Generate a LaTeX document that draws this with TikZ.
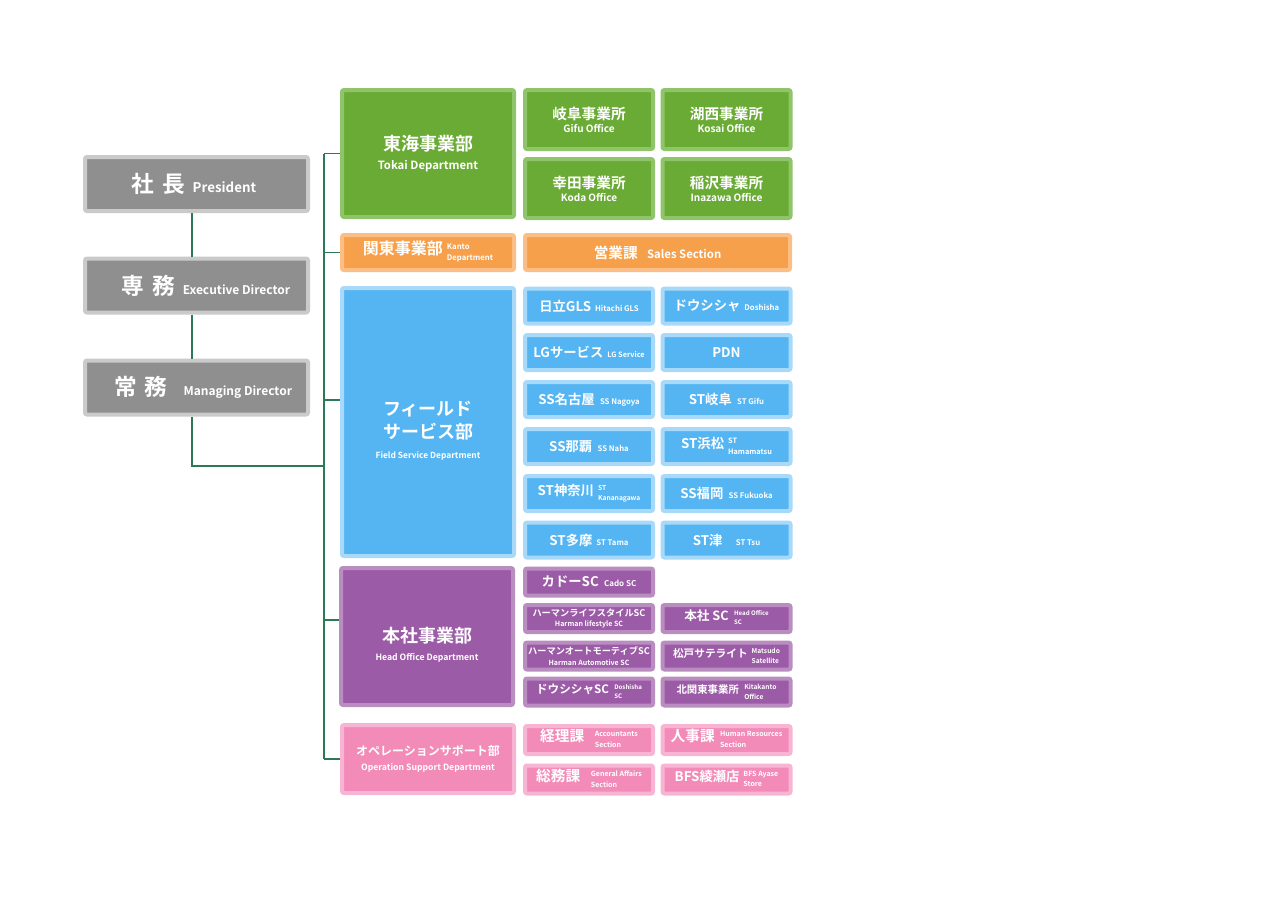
\documentclass[tikz,border=0pt]{standalone}
\usepackage{fontspec}
\setmainfont{Noto Sans CJK JP}[BoldFont={Noto Sans CJK JP Bold}]
\usepackage{tikz}
\definecolor{grayfill}{HTML}{8F8F8F}
\definecolor{grayedge}{HTML}{CACACA}
\definecolor{greenfill}{HTML}{6AAB35}
\definecolor{greenedge}{HTML}{8FC46A}
\definecolor{orangefill}{HTML}{F7A04B}
\definecolor{orangeedge}{HTML}{FBBE86}
\definecolor{bluefill}{HTML}{55B5F2}
\definecolor{blueedge}{HTML}{A8D9F8}
\definecolor{purplefill}{HTML}{9C5BA6}
\definecolor{purpleedge}{HTML}{BA8DC1}
\definecolor{pinkfill}{HTML}{F28BB8}
\definecolor{pinkedge}{HTML}{F8B5D3}
\definecolor{linkgreen}{HTML}{2C7A55}
\newcommand\sz[2]{{\fontsize{#1}{#1}\selectfont #2}}
\newcommand\stk[3]{{\fontsize{#1}{\dimexpr#1pt*3/2\relax}\selectfont\begin{tabular}[c]{@{}l@{}}#2\\#3\end{tabular}}}

\begin{document}
\begin{tikzpicture}[x=0.75pt, y=-0.75pt,
    every node/.style = {rounded corners=1.5pt, line width=3pt, text=white, font=\bfseries, align=center, inner sep=0pt},
    graybox/.style = {draw=grayedge, fill=grayfill, minimum width=167.25pt, minimum height=40.5pt},
    dept/.style = {minimum width=129pt},
    cell/.style = {minimum width=96pt},
    greenbox/.style = {draw=greenedge, fill=greenfill},
    orangebox/.style = {draw=orangeedge, fill=orangefill, minimum height=26.25pt},
    bluebox/.style = {draw=blueedge, fill=bluefill},
    purplebox/.style = {draw=purpleedge, fill=purplefill},
    pinkbox/.style = {draw=pinkedge, fill=pinkfill},
    link/.style = {draw=linkgreen, line width=1.2pt}]
  \useasboundingbox (0,0) rectangle (1280,904);

  % top management
  \node[graybox] (pres) at (196.5,184) {\hspace{-4pt}\sz{17}{社\hspace{0.35em}長}\hspace{0.6em}\sz{10}{President}};
  \node[graybox] (exec) at (196.5,285.5) {\hspace{14pt}\sz{17}{専\hspace{0.35em}務}\hspace{0.6em}\sz{9}{Executive Director}};
  \node[graybox] (mng) at (196.5,387.5) {\hspace{10pt}\sz{17}{常\hspace{0.35em}務}\hspace{1.2em}\sz{9}{Managing Director}};

  % departments
  \node[dept, greenbox, minimum height=95.25pt] (tokai) at (428,153.5)
    {\sz{13.5}{東海事業部}\\[2.5pt]\sz{8.5}{Tokai Department}};
  \node[dept, orangebox] (kanto) at (428,252.5)
    {\sz{12}{関東事業部}\hspace{3pt}\stk{5.8}{Kanto}{Department}};
  \node[dept, bluebox, minimum height=201pt] (field) at (428,422)
    {\sz{13.5}{\rule{0pt}{24pt}フィールド}\\[3pt]\sz{13.5}{サービス部}\\[3pt]\sz{6.3}{Field Service Department}};
  \node[dept, purplebox, minimum height=102.75pt] (head) at (427,636.5)
    {\sz{13.5}{\rule{0pt}{24pt}本社事業部}\\[1.5pt]\sz{6.5}{Head Office Department}};
  \node[dept, pinkbox, minimum height=51pt] (oper) at (428,759)
    {\sz{9}{オペレーションサポート部}\\[-1pt]\sz{6.5}{Operation Support Department}};

  % Tokai offices
  \node[cell, greenbox, minimum height=44.25pt] (gifu) at (589,119.5)
    {\sz{11}{岐阜事業所}\\[-2pt]\sz{7.5}{Gifu Office}};
  \node[cell, greenbox, minimum height=44.25pt] (kosai) at (726.5,119.5)
    {\sz{11}{湖西事業所}\\[-2pt]\sz{7.5}{Kosai Office}};
  \node[cell, greenbox, minimum height=44.25pt] (koda) at (589,188.5)
    {\sz{11}{幸田事業所}\\[-2pt]\sz{7.5}{Koda Office}};
  \node[cell, greenbox, minimum height=44.25pt] (inazawa) at (726.5,188.5)
    {\sz{11}{稲沢事業所}\\[-2pt]\sz{7.5}{Inazawa Office}};

  \node[orangebox, minimum width=198.75pt] (sales) at (657.5,252.5)
    {\sz{11}{営業課}\hspace{7pt}\sz{8.5}{Sales Section}};

  % field service offices
  \node[cell, bluebox, minimum height=26.25pt] (hitachi) at (589,306)
    {\sz{10}{日立GLS}\hspace{3pt}\sz{5.8}{Hitachi GLS}};
  \node[cell, bluebox, minimum height=26.25pt] (doshisha) at (726.5,306)
    {\sz{10}{ドウシシャ}\hspace{3pt}\sz{5.8}{Doshisha}};
  \node[cell, bluebox, minimum height=26.25pt] (lg) at (589,352.5)
    {\sz{10}{LGサービス}\hspace{3pt}\sz{5.5}{LG Service}};
  \node[cell, bluebox, minimum height=26.25pt] (pdn) at (726.5,352.5)
    {\sz{10}{PDN}};
  \node[cell, bluebox, minimum height=26.25pt] (nagoya) at (589,399.5)
    {\sz{10}{SS名古屋}\hspace{4pt}\sz{5.8}{SS Nagoya}};
  \node[cell, bluebox, minimum height=26.25pt] (stgifu) at (726.5,399.5)
    {\sz{10}{ST岐阜}\hspace{4pt}\sz{5.8}{ST Gifu}};
  \node[cell, bluebox, minimum height=26.25pt] (naha) at (589,446.5)
    {\sz{10}{SS那覇}\hspace{4pt}\sz{5.8}{SS Naha}};
  \node[cell, bluebox, minimum height=26.25pt] (hamamatsu) at (726.5,446.5)
    {\sz{10}{ST浜松}\hspace{3pt}\stk{5.5}{ST}{Hamamatsu}};
  \node[cell, bluebox, minimum height=26.25pt] (kanagawa) at (589,493.5)
    {\sz{10}{ST神奈川}\hspace{3pt}\stk{5}{ST}{Kananagawa}};
  \node[cell, bluebox, minimum height=26.25pt] (fukuoka) at (726.5,493.5)
    {\sz{10}{SS福岡}\hspace{4pt}\sz{5.8}{SS Fukuoka}};
  \node[cell, bluebox, minimum height=26.25pt] (tama) at (589,540)
    {\sz{10}{ST多摩}\hspace{3pt}\sz{5.8}{ST Tama}};
  \node[cell, bluebox, minimum height=26.25pt] (tsu) at (726.5,540)
    {\sz{10}{ST津}\hspace{10pt}\sz{5.8}{ST Tsu}};

  % head office service centres
  \node[cell, purplebox, minimum height=20.25pt] (cado) at (589,582)
    {\sz{10}{カドーSC}\hspace{4pt}\sz{6}{Cado SC}};
  \node[cell, purplebox, minimum height=20.25pt] (lifestyle) at (589,618.5)
    {\sz{6.9}{ハーマンライフスタイルSC}\\[-4pt]\sz{5.3}{Harman lifestyle SC}};
  \node[cell, purplebox, minimum height=20.25pt] (honsha) at (726.5,618.5)
    {\sz{9.5}{本社 SC}\hspace{4pt}\stk{4.6}{Head Office}{SC}};
  \node[cell, purplebox, minimum height=20.25pt] (automotive) at (589,656)
    {\sz{6.9}{ハーマンオートモーティブSC}\\[-4pt]\sz{5.3}{Harman Automotive SC}};
  \node[cell, purplebox, minimum height=20.25pt] (matsudo) at (726.5,656)
    {\sz{8}{松戸サテライト}\hspace{3pt}\stk{5}{Matsudo}{Satellite}};
  \node[cell, purplebox, minimum height=20.25pt] (doshishasc) at (589,692)
    {\sz{8.7}{ドウシシャSC}\hspace{4pt}\stk{4.6}{Doshisha}{SC}};
  \node[cell, purplebox, minimum height=20.25pt] (kitakanto) at (726.5,692)
    {\sz{7.8}{北関東事業所}\hspace{4pt}\stk{5}{Kitakanto}{Office}};

  % operation support sections
  \node[cell, pinkbox, minimum height=21pt] (keiri) at (589,740)
    {\sz{11}{経理課}\hspace{8pt}\stk{5.3}{Accountants}{Section}};
  \node[cell, pinkbox, minimum height=21pt] (jinji) at (726.5,740)
    {\sz{11}{人事課}\hspace{4pt}\stk{5.3}{Human Resources}{Section}};
  \node[cell, pinkbox, minimum height=21pt] (somu) at (589,779.5)
    {\sz{11}{総務課}\hspace{8pt}\stk{5.3}{General Affairs}{Section}};
  \node[cell, pinkbox, minimum height=21pt] (ayase) at (726.5,779.5)
    {\sz{10}{BFS綾瀬店}\hspace{3pt}\stk{5.3}{BFS Ayase}{Store}};

  \coordinate (spine) at (192,0);
  \coordinate (trunk) at (324,0);
  \coordinate (join) at (324,466);

  \draw[link] (pres.south -| spine) -- (exec.north -| spine);
  \draw[link] (exec.south -| spine) -- (mng.north -| spine);
  \draw[link] (mng.south -| spine) |- (join);
  \draw[link] (trunk |- tokai.west) -- (trunk |- oper.west);
  \draw[link] (trunk |- tokai.west) -- (tokai.west);
  \draw[link] (trunk |- kanto.west) -- (kanto.west);
  \draw[link] ([yshift=16.5pt]field.west -| trunk) -- ([yshift=16.5pt]field.west);
  \draw[link] ([yshift=12.4pt]head.west -| trunk) -- ([yshift=12.4pt]head.west);
  \draw[link] (trunk |- oper.west) -- (oper.west);
\end{tikzpicture}
\end{document}
